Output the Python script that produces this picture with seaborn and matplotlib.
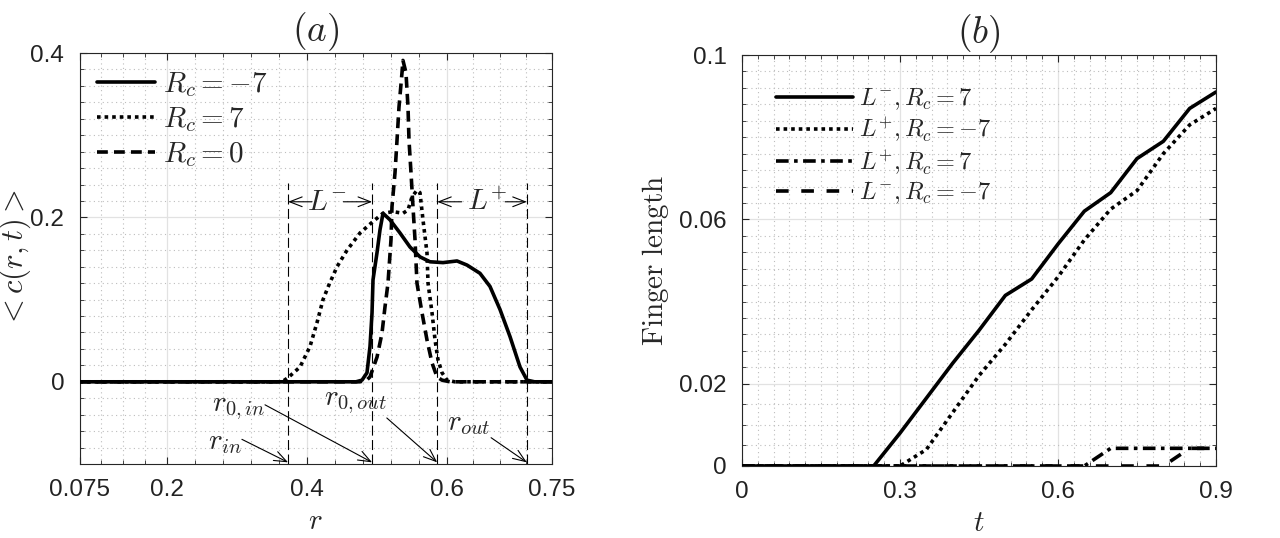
import numpy as np
import pandas as pd
import seaborn as sns
import matplotlib.pyplot as plt
from matplotlib.ticker import FixedLocator

# (a) azimuthally averaged concentration <c(r,t)>
r_neg7 = [0.075, 0.470, 0.4786, 0.4857, 0.490, 0.4929, 0.4943, 0.500, 0.5043, 0.5086,
          0.5186, 0.5329, 0.5471, 0.5614, 0.5757, 0.5943, 0.6143, 0.6286, 0.6471, 0.6614,
          0.6757, 0.690, 0.7043, 0.7143, 0.725, 0.75]
c_neg7 = [0, 0, 0.002, 0.011, 0.043, 0.084, 0.124, 0.157, 0.185, 0.205,
          0.197, 0.181, 0.164, 0.152, 0.146, 0.145, 0.147, 0.142, 0.132, 0.116,
          0.088, 0.055, 0.018, 0.002, 0, 0]

r_pos7 = [0.075, 0.3643, 0.3729, 0.390, 0.4043, 0.4143, 0.4229, 0.4314, 0.4429, 0.4571,
          0.4757, 0.4943, 0.5086, 0.5229, 0.5371, 0.5443, 0.550, 0.5571, 0.5614, 0.5657,
          0.5714, 0.5729, 0.5786, 0.5829, 0.5871, 0.5929, 0.600, 0.611, 0.75]
c_pos7 = [0, 0, 0.005, 0.018, 0.043, 0.072, 0.100, 0.118, 0.140, 0.160,
          0.181, 0.195, 0.205, 0.207, 0.205, 0.209, 0.225, 0.233, 0.230, 0.197,
          0.157, 0.120, 0.084, 0.051, 0.027, 0.011, 0.002, 0, 0]

r_zero = [0.075, 0.4757, 0.4857, 0.490, 0.500, 0.5071, 0.5114, 0.5157, 0.520, 0.5214,
          0.5257, 0.5286, 0.5314, 0.5357, 0.5371, 0.5414, 0.5443, 0.5457, 0.5486, 0.5514,
          0.5543, 0.5571, 0.5643, 0.5714, 0.5786, 0.5857, 0.5929, 0.6043, 0.75]
c_zero = [0, 0, 0.0024, 0.006, 0.030, 0.059, 0.091, 0.120, 0.173, 0.213,
          0.254, 0.294, 0.334, 0.376, 0.391, 0.376, 0.334, 0.294, 0.254, 0.213,
          0.173, 0.120, 0.084, 0.051, 0.023, 0.006, 0.002, 0, 0]

# r_in, r_0,in, r_0,out, r_out
r_bounds = [0.373, 0.493, 0.586, 0.714]

# (b) finger length vs time
t_b = [0, 0.05, 0.1, 0.15, 0.2, 0.25, 0.3, 0.35, 0.4, 0.45,
       0.5, 0.55, 0.6, 0.65, 0.7, 0.75, 0.8, 0.85, 0.9]
Lm_pos7 = [0, 0, 0, 0, 0, 0, 0.008, 0.0165, 0.025, 0.033,
           0.0415, 0.0455, 0.054, 0.062, 0.0665, 0.0748, 0.079, 0.087, 0.091]
Lp_neg7 = [0, 0, 0, 0, 0, 0, 0, 0.004, 0.013, 0.022,
           0.0296, 0.038, 0.046, 0.055, 0.0625, 0.067, 0.076, 0.083, 0.087]
Lp_pos7 = [0, 0, 0, 0, 0, 0, 0, 0, 0, 0,
           0, 0, 0, 0, 0.0043, 0.0043, 0.0043, 0.0043, 0.0043]
Lm_neg7 = [0, 0, 0, 0, 0, 0, 0, 0, 0, 0,
           0, 0, 0, 0, 0, 0, 0, 0.0043, 0.0043]

sns.set_style('ticks')
plt.rcParams['font.family'] = ['Liberation Sans', 'DejaVu Sans']
plt.rcParams['mathtext.fontset'] = 'cm'


def minors(major, parts):
    out = []
    for a, b, n in zip(major[:-1], major[1:], parts):
        out += list(np.linspace(a, b, n + 1)[1:-1])
    return out


def style_ax(ax):
    for s in ax.spines.values():
        s.set_color('#262626')
        s.set_linewidth(0.8)
    ax.tick_params(which='both', direction='in', top=True, right=True,
                   colors='#262626', labelsize=17.5, labelcolor='#222222')
    ax.tick_params(which='major', length=5, pad=11)
    ax.tick_params(which='minor', length=3)
    ax.grid(which='major', color='#e2e2e2', lw=0.9, ls='-')
    ax.grid(which='minor', color='#bdbdbd', lw=0.8, ls=(0, (1, 3)))
    ax.set_axisbelow(True)


fig = plt.figure(figsize=(12.8, 5.38), dpi=100)
ax1 = fig.add_axes([79.5 / 1280, 1 - 464 / 538, 472.5 / 1280, 411 / 538])
ax2 = fig.add_axes([742 / 1280, 1 - 466 / 538, 474 / 1280, 411 / 538])

# ---- panel (a)
lw = 2.6
sns.lineplot(x=r_neg7, y=c_neg7, ax=ax1, color='k', lw=lw, sort=False, estimator=None,
             label='$R_c = -7$', zorder=4)
sns.lineplot(x=r_pos7, y=c_pos7, ax=ax1, color='k', lw=lw, ls=(0, (1, 1.1)), sort=False,
             estimator=None, label='$R_c = 7$', zorder=3)
sns.lineplot(x=r_zero, y=c_zero, ax=ax1, color='k', lw=lw, ls=(0, (3, 1.7)), sort=False,
             estimator=None, label='$R_c = 0$', zorder=3)

for rb in r_bounds:
    ax1.plot([rb, rb], [-0.1, 0.242], color='k', lw=0.8, ls=(0, (9, 4)), zorder=2)

akw = dict(arrowstyle='->,head_length=0.9,head_width=0.35', color='k', lw=0.8,
           shrinkA=0, shrinkB=0)
ly = 0.219
ax1.text(0.428, ly, '$L^{-}$', ha='center', va='center', fontsize=21)
ax1.annotate('', xy=(r_bounds[0], ly), xytext=(0.407, ly), arrowprops=akw)
ax1.annotate('', xy=(r_bounds[1], ly), xytext=(0.452, ly), arrowprops=akw)
ax1.text(0.657, ly, '$L^{+}$', ha='center', va='center', fontsize=21)
ax1.annotate('', xy=(r_bounds[2], ly), xytext=(0.621, ly), arrowprops=akw)
ax1.annotate('', xy=(r_bounds[3], ly), xytext=(0.683, ly), arrowprops=akw)

yb = -0.098
ax1.text(0.283, -0.073, '$r_{in}$', ha='center', va='center', fontsize=21)
ax1.annotate('', xy=(r_bounds[0], yb), xytext=(0.307, -0.070), arrowprops=akw)
ax1.text(0.302, -0.032, '$r_{0,in}$', ha='center', va='center', fontsize=21)
ax1.annotate('', xy=(r_bounds[1], yb), xytext=(0.340, -0.028), arrowprops=akw)
ax1.text(0.469, -0.024, '$r_{0,out}$', ha='center', va='center', fontsize=21)
ax1.annotate('', xy=(r_bounds[2], yb), xytext=(0.514, -0.044), arrowprops=akw)
ax1.text(0.631, -0.050, '$r_{out}$', ha='center', va='center', fontsize=21)
ax1.annotate('', xy=(r_bounds[3], yb), xytext=(0.663, -0.068), arrowprops=akw)

ax1.set_xlim(0.075, 0.75)
ax1.set_ylim(-0.1, 0.4)
xt = [0.075, 0.2, 0.4, 0.6, 0.75]
ax1.set_xticks(xt, ['0.075', '0.2', '0.4', '0.6', '0.75'])
ax1.xaxis.set_minor_locator(FixedLocator(minors(xt, [4, 5, 5, 4])))
ax1.set_yticks([0, 0.2, 0.4], ['0', '0.2', '0.4'])
ax1.yaxis.set_minor_locator(FixedLocator(minors([-0.1, 0, 0.2, 0.4], [5, 10, 10])))
style_ax(ax1)
ax1.set_xlabel('$r$', fontsize=21, labelpad=4)
ax1.set_ylabel('$<c(r,t)>$', fontsize=22)
ax1.yaxis.set_label_coords(-0.098, 0.5)
ax1.set_title('$(a)$', fontsize=27, pad=5)
ax1.legend(loc='upper left', bbox_to_anchor=(0.0, 1.0), frameon=False, fontsize=21,
           handlelength=2.0, handletextpad=0.25, labelspacing=0.2, borderaxespad=0.2)

# ---- panel (b)
sns.lineplot(x=t_b, y=Lm_pos7, ax=ax2, color='k', lw=lw, sort=False, estimator=None,
             label='$L^{-}, R_c = 7$', zorder=4)
sns.lineplot(x=t_b, y=Lp_neg7, ax=ax2, color='k', lw=lw, ls=(0, (1, 1.1)), sort=False,
             estimator=None, label='$L^{+}, R_c = -7$', zorder=3)
sns.lineplot(x=t_b, y=Lp_pos7, ax=ax2, color='k', lw=lw, ls=(0, (3.5, 1.5, 1, 1.5)),
             sort=False, estimator=None, label='$L^{+}, R_c = 7$', zorder=3)
sns.lineplot(x=t_b, y=Lm_neg7, ax=ax2, color='k', lw=lw, ls=(0, (3.5, 3.5)), sort=False,
             estimator=None, label='$L^{-}, R_c = -7$', zorder=3)

ax2.set_xlim(0, 0.9)
ax2.set_ylim(0, 0.1)
ax2.set_xticks([0, 0.3, 0.6, 0.9], ['0', '0.3', '0.6', '0.9'])
ax2.xaxis.set_minor_locator(FixedLocator(minors([0, 0.3, 0.6, 0.9], [10, 10, 10])))
ax2.set_yticks([0, 0.02, 0.06, 0.1], ['0', '0.02', '0.06', '0.1'])
ax2.yaxis.set_minor_locator(FixedLocator(minors([0, 0.02, 0.06, 0.1], [4, 10, 10])))
style_ax(ax2)
ax2.set_xlabel('$t$', fontsize=21, labelpad=4)
ax2.set_ylabel(r'$\mathrm{Finger\ length}$', fontsize=21, labelpad=6)
ax2.set_title('$(b)$', fontsize=27, pad=5)
ax2.legend(loc='upper left', bbox_to_anchor=(0.035, 0.965), frameon=False, fontsize=17.5,
           handlelength=3.2, handletextpad=0.25, labelspacing=0.15, borderaxespad=0.3)

fig.savefig('out.png', dpi=100)
